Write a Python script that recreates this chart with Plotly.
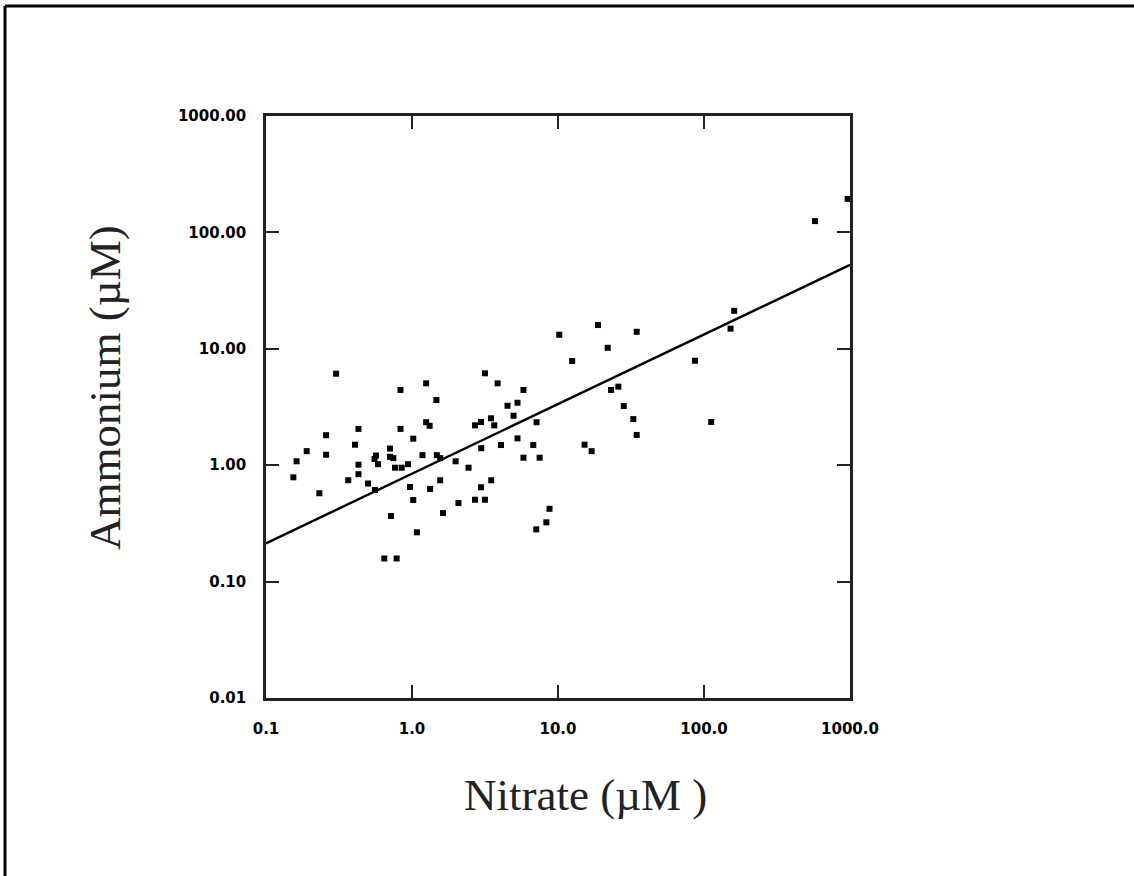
import plotly.graph_objects as go

# Data (Nitrate vs Ammonium, µM)
nitrate = [0.154, 0.162, 0.190, 0.232, 0.258, 0.258, 0.302, 0.366, 0.407, 0.430,
           0.430, 0.430, 0.500, 0.567, 0.585, 0.554, 0.558, 0.646, 0.785, 0.707,
           0.707, 0.745, 0.718, 0.765, 0.850, 0.939, 0.834, 0.834, 0.969, 1.02,
           1.02, 1.08, 1.18, 1.25, 1.25, 1.32, 1.33, 1.47, 1.48, 1.56,
           1.56, 1.63, 1.99, 2.08, 2.44, 2.70, 2.97, 3.48, 3.66, 2.98,
           3.16, 3.86, 4.07, 4.51, 5.28, 4.96, 5.28, 5.80, 5.80, 6.77,
           7.13, 7.49, 3.49, 2.97, 2.70, 3.16, 8.75, 8.32, 7.10, 10.2,
           12.5, 18.8, 21.9, 34.6, 23.1, 25.9, 28.2, 32.8, 34.6, 15.2,
           17.0, 86.7, 112.0, 152.0, 161.0, 576.0, 964.0]
ammonium = [0.787, 1.08, 1.32, 0.574, 1.81, 1.23, 6.11, 0.743, 1.50, 2.05,
            1.01, 0.837, 0.696, 1.21, 1.02, 1.13, 0.612, 0.158, 0.158, 1.39,
            1.18, 1.15, 0.366, 0.952, 0.952, 1.02, 4.43, 2.05, 0.650, 1.69,
            0.502, 0.265, 1.22, 5.05, 2.34, 2.18, 0.625, 3.63, 1.22, 1.15,
            0.742, 0.388, 1.08, 0.473, 0.952, 2.20, 2.35, 2.53, 2.20, 1.40,
            6.16, 5.05, 1.49, 3.24, 3.44, 2.66, 1.70, 4.43, 1.16, 1.49,
            2.34, 1.16, 0.742, 0.646, 0.505, 0.505, 0.422, 0.323, 0.281, 13.2,
            7.86, 16.0, 10.2, 14.0, 4.43, 4.73, 3.22, 2.49, 1.82, 1.50,
            1.32, 7.90, 2.35, 14.9, 21.2, 125.0, 194.0]

# Fitted power law: ammonium = fit_coef * nitrate ** fit_exp
fit_coef = 0.845
fit_exp = 0.598
fit_x = [0.1, 1000.0]
fit_y = [fit_coef * v ** fit_exp for v in fit_x]

x_tickvals = [0.1, 1, 10, 100, 1000]
x_ticktext = ["0.1", "1.0", "10.0", "100.0", "1000.0"]
y_tickvals = [0.01, 0.1, 1, 10, 100, 1000]
y_ticktext = ["0.01", "0.10", "1.00", "10.00", "100.00", "1000.00"]

fig = go.Figure()
fig.add_trace(go.Scatter(x=nitrate, y=ammonium, mode="markers",
                         marker=dict(symbol="square", size=6, color="black"),
                         showlegend=False, hoverinfo="x+y"))
fig.add_trace(go.Scatter(x=fit_x, y=fit_y, mode="lines",
                         line=dict(color="black", width=2.4),
                         showlegend=False, hoverinfo="skip"))

W, H = 1134, 876
L, R, T, B = 266, 1134 - 850, 116, 876 - 698
pw, ph = W - L - R, H - T - B

def px(x):
    return (x - L) / pw

def py(y):
    return (H - B - y) / ph

axis_common = dict(type="log", showline=True, linewidth=2.5, linecolor="#222",
                   mirror="ticks", ticks="inside", ticklen=13, tickwidth=2,
                   tickcolor="#222", showgrid=False, zeroline=False,
                   tickfont=dict(family="DejaVu Sans", size=15, color="black", weight="bold"))

fig.update_layout(
    width=W, height=H,
    margin=dict(l=L, r=R, t=T, b=B, pad=0),
    paper_bgcolor="white", plot_bgcolor="white",
    xaxis=dict(range=[-1, 3], tickvals=x_tickvals, ticktext=x_ticktext,
               ticklabelstandoff=15, **axis_common),
    yaxis=dict(range=[-2, 3], tickvals=y_tickvals, ticktext=y_ticktext,
               ticklabelstandoff=14, **axis_common),
    annotations=[
        dict(text="Nitrate (µM )", xref="paper", yref="paper",
             x=px(585), y=py(795), showarrow=False,
             font=dict(family="Liberation Serif", size=45, color="#222"),
             xanchor="center", yanchor="middle"),
        dict(text="Ammonium (µM)", xref="paper", yref="paper",
             x=px(105), y=py(388), showarrow=False, textangle=-90,
             font=dict(family="Liberation Serif", size=45, color="#222"),
             xanchor="center", yanchor="middle"),
    ],
    shapes=[
        dict(type="line", xref="paper", yref="paper",
             x0=px(5), y0=py(6), x1=px(1140), y1=py(6),
             line=dict(color="black", width=3)),
        dict(type="line", xref="paper", yref="paper",
             x0=px(5), y0=py(6), x1=px(5), y1=py(880),
             line=dict(color="black", width=3)),
    ],
)

fig.write_html("out.html", config={"displayModeBar": False},
               post_script=["document.body.style.margin='0';document.body.style.overflow='hidden';"])
